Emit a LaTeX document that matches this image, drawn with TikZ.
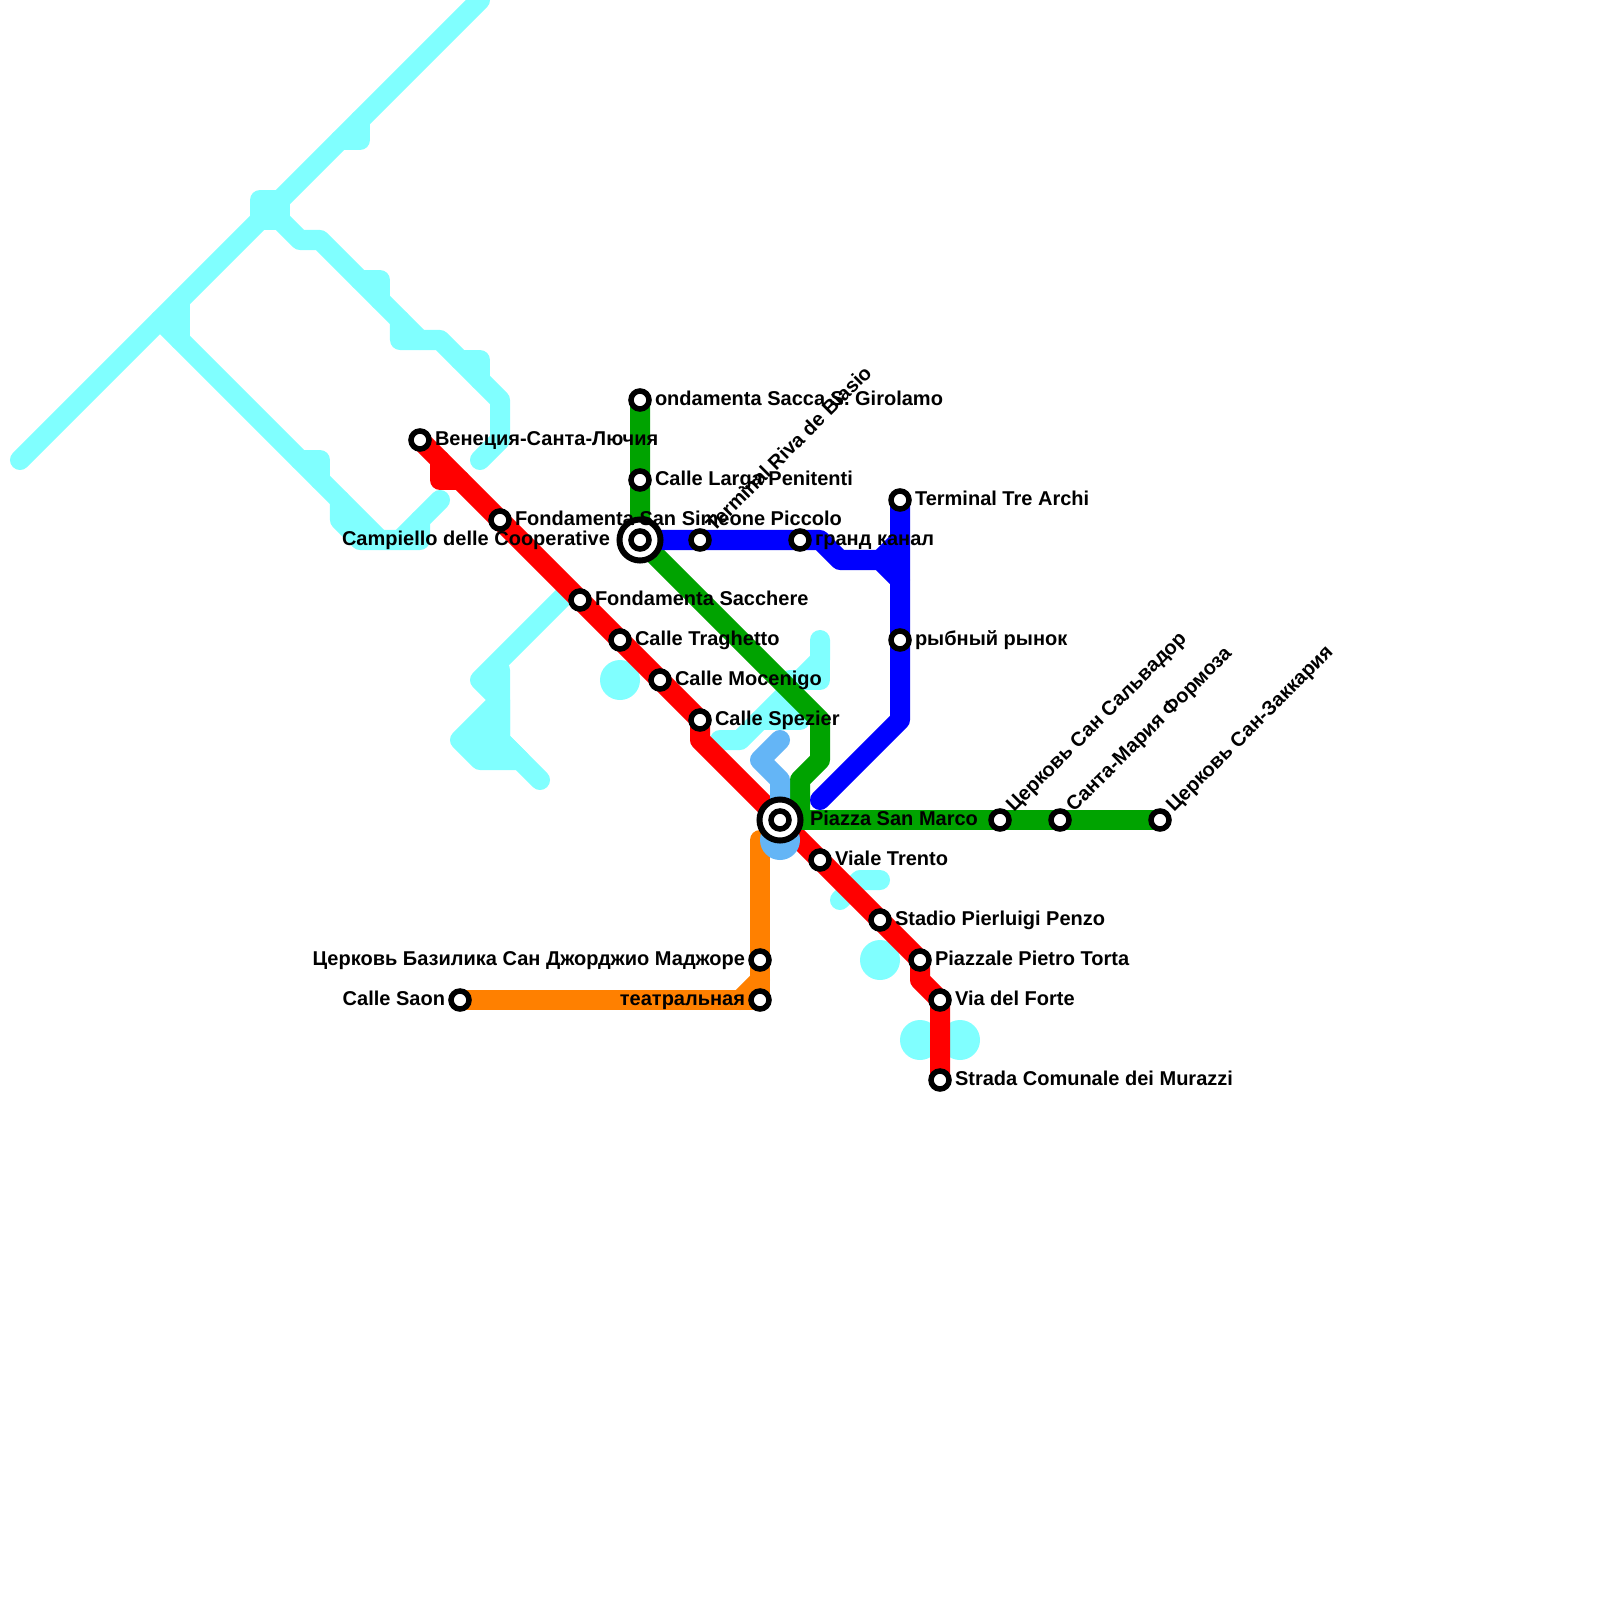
\documentclass[tikz,border=0pt]{standalone}
\usepackage{fontspec}
\setmainfont{Liberation Sans}[BoldFont={Liberation Sans Bold}]
\definecolor{water}{HTML}{80FFFF}
\definecolor{mred}{HTML}{FF0000}
\definecolor{mgreen}{HTML}{00A300}
\definecolor{mblue}{HTML}{0000FF}
\definecolor{morange}{HTML}{FF8000}
\definecolor{msky}{HTML}{64B5F6}
\tikzset{
  x=0.01cm, y=-0.01cm,
  track/.style={line width=0.2cm, line cap=round, line join=round},
  wat/.style={track, draw=water},
  stn/.style={circle, draw=black, fill=white, line width=0.055cm, minimum size=0.18cm, inner sep=0pt, outer sep=0pt},
  hub/.style={circle, draw=black, fill=white, line width=0.06cm, minimum size=0.41cm, inner sep=0pt, outer sep=0pt},
  lab/.style={inner sep=0pt, outer sep=0pt, font=\fontsize{5.69}{6.8}\selectfont\bfseries, text=black},
  labr/.style={lab, anchor=base west, xshift=0.15cm, yshift=-0.05cm},
  labl/.style={lab, anchor=base east, xshift=-0.15cm, yshift=-0.05cm},
  labd/.style={lab, anchor=base west, rotate=45, xshift=0.15cm, yshift=-0.05cm},
}
\begin{document}
\begin{tikzpicture}
\useasboundingbox (0,0) rectangle (1600,1600);
\fill[white] (0,0) rectangle (1600,1600);
% station coordinates
\coordinate (ven) at (420,440);
\coordinate (fss) at (500,520);
\coordinate (fsa) at (580,600);
\coordinate (ctr) at (620,640);
\coordinate (cmo) at (660,680);
\coordinate (csp) at (700,720);
\coordinate (psm) at (780,820);
\coordinate (vtr) at (820,860);
\coordinate (spp) at (880,920);
\coordinate (ppt) at (920,960);
\coordinate (vdf) at (940,1000);
\coordinate (scm) at (940,1080);
\coordinate (fsg) at (640,400);
\coordinate (clp) at (640,480);
\coordinate (cdc) at (640,540);
\coordinate (csv) at (1000,820);
\coordinate (smf) at (1060,820);
\coordinate (csz) at (1160,820);
\coordinate (trb) at (700,540);
\coordinate (gka) at (800,540);
\coordinate (tta) at (900,500);
\coordinate (rry) at (900,640);
\coordinate (cbs) at (760,960);
\coordinate (tea) at (760,1000);
\coordinate (csa) at (460,1000);
% water
\draw[wat] (20,460) -- (480,0);
\draw[wat] (340,140) -- (360,140) -- (360,120);
\draw[wat] (260,220) -- (260,200) -- (280,200) -- (280,220) -- cycle;
\fill[water] (260,200) rectangle (280,220);
\draw[wat] (280,220) -- (300,240) -- (320,240) -- (420,340);
\draw[wat] (380,300) -- (380,280) -- (360,280);
\draw[wat] (400,320) -- (400,340) -- (440,340) -- (500,400) -- (500,440) -- (480,460);
\draw[wat] (460,360) -- (480,360) -- (480,380);
\draw[wat] (160,320) -- (380,540);
\draw[wat] (180,300) -- (180,340);
\fill[water] (160,320) -- (180,300) -- (180,340) -- cycle;
\draw[wat] (300,460) -- (320,460) -- (320,480);
\draw[wat] (340,500) -- (340,520) -- (360,540) -- (420,540) -- (420,520) -- (440,500);
\fill[water] (340,500) -- (380,540) -- (360,540) -- (340,520) -- cycle;
\draw[wat] (400,540) -- (420,520);
\draw[wat] (570,590) -- (480,680) -- (500,700);
\draw[wat] (500,670) -- (500,740) -- (540,780);
\draw[wat, fill=water] (500,700) -- (460,740) -- (480,760) -- (520,760) -- (500,740) -- cycle;
\fill[water] (600,680) arc[start angle=180, end angle=540, radius=20];
\draw[wat] (720,740) -- (740,740) -- (820,660) -- (820,640);
\draw[wat] (820,660) -- (820,680) -- (790,680);
\fill[water] (820,660) -- (820,680) -- (790,680) -- cycle;
\draw[wat] (760,720) -- (800,720);
\fill[water] (770,710) -- (790,700) -- (800,715) -- cycle;
\draw[wat] (840,900) -- (860,880) -- (880,880);
\fill[water] (860,960) arc[start angle=180, end angle=540, radius=20];
\fill[water] (900,1040) arc[start angle=180, end angle=540, radius=20];
\fill[water] (940,1040) arc[start angle=180, end angle=540, radius=20];
% lines
\draw[track, mred] (ven) -- (csp) -- (700,740) -- (psm) -- (ppt) -- (920,980) -- (vdf) -- (scm);
\draw[track, mred] (440,460) -- (440,480) -- (460,480);
\fill[mred] (440,460) -- (440,480) -- (460,480) -- cycle;
\draw[track, mgreen] (fsg) -- (cdc) -- (800,700) -- (820,720) -- (820,760) -- (800,780) -- (800,820);
\draw[track, mgreen] (psm) -- (csz);
\draw[track, morange] (csa) -- (tea) -- (760,840);
\draw[track, morange] (740,1000) -- (760,980);
\draw[track, msky] (780,740) -- (760,760) -- (780,780) -- (psm);
\fill[msky] (760,840) arc[start angle=180, end angle=540, radius=20];
\draw[track, mblue] (cdc) -- (820,540) -- (840,560) -- (880,560) -- (900,580);
\draw[track, mblue] (880,560) -- (900,540);
\fill[mblue] (880,560) -- (900,540) -- (900,580) -- cycle;
\draw[track, mblue] (tta) -- (900,720) -- (820,800);
% stations
\foreach \s in {ven,fss,fsa,ctr,cmo,csp,vtr,spp,ppt,vdf,scm,fsg,clp,csv,smf,csz,trb,gka,tta,rry,cbs,tea,csa}{
  \node[stn] (\s-dot) at (\s) {};
}
\node[hub] (cdc-hub) at (cdc) {};
\node[stn] (cdc-dot) at (cdc) {};
\node[hub] (psm-hub) at (psm) {};
\node[stn] (psm-dot) at (psm) {};
% labels
\node[labr] (l1) at (ven) {Венеция-Санта-Лючия};
\node[labr] (l2) at (fss) {Fondamenta San Simeone Piccolo};
\node[labr] (l3) at (fsa) {Fondamenta Sacchere};
\node[labr] (l4) at (ctr) {Calle Traghetto};
\node[labr] (l5) at (cmo) {Calle Mocenigo};
\node[labr] (l6) at (csp) {Calle Spezier};
\node[labr, xshift=0.15cm] (l7) at (psm) {Piazza San Marco};
\node[labr] (l8) at (vtr) {Viale Trento};
\node[labr] (l9) at (spp) {Stadio Pierluigi Penzo};
\node[labr] (l10) at (ppt) {Piazzale Pietro Torta};
\node[labr] (l11) at (vdf) {Via del Forte};
\node[labr] (l12) at (scm) {Strada Comunale dei Murazzi};
\node[labr] (l13) at (fsg) {ondamenta Sacca S. Girolamo};
\node[labr] (l14) at (clp) {Calle Larga Penitenti};
\node[labl, xshift=-0.15cm] (l15) at (cdc) {Campiello delle Cooperative};
\node[labr] (l16) at (gka) {гранд канал};
\node[labr] (l17) at (tta) {Terminal Tre Archi};
\node[labr] (l18) at (rry) {рыбный рынок};
\node[labl] (l19) at (cbs) {Церковь Базилика Сан Джорджио Маджоре};
\node[labl] (l20) at (tea) {театральная};
\node[labl] (l21) at (csa) {Calle Saon};
\node[labd] (l22) at (trb) {Terminal Riva de Biasio};
\node[labd] (l23) at (csv) {Церковь Сан Сальвадор};
\node[labd] (l24) at (smf) {Санта-Мария Формоза};
\node[labd] (l25) at (csz) {Церковь Сан-Заккария};
\end{tikzpicture}
\end{document}
